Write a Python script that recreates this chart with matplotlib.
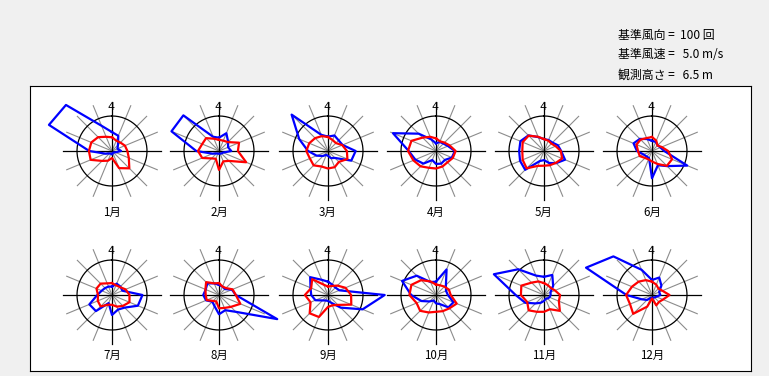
"""
Monthly wind roses (frequency and mean speed by direction)
"""
import matplotlib
matplotlib.use('Agg')
import matplotlib.pyplot as plt
import numpy

plt.rcParams['font.family'] = ['Noto Sans CJK JP', 'DejaVu Sans']

# 16 directions, clockwise from north
directions = ['N', 'NNE', 'NE', 'ENE', 'E', 'ESE', 'SE', 'SSE',
              'S', 'SSW', 'SW', 'WSW', 'W', 'WNW', 'NW', 'NNW']
month_labels = ['1月', '2月', '3月', '4月', '5月', '6月',
                '7月', '8月', '9月', '10月', '11月', '12月']

# wind direction counts (blue) and mean wind speed m/s (red)
jan_count = [54, 47, 24, 17, 26, 10, 6, 6, 10, 8, 10, 20, 65, 195, 186, 78]
jan_speed = [1.96, 1.6, 1.7, 2.0, 2.2, 2.6, 3.5, 2.65, 1.0, 1.5, 2.0, 3.3,
             3.3, 3.2, 2.8, 2.2]
feb_count = [38, 55, 37, 28, 35, 12, 10, 8, 8, 8, 10, 20, 65, 147, 144, 44]
feb_speed = [1.6, 1.6, 1.8, 3.1, 2.7, 4.2, 2.0, 1.6, 2.7, 1.2, 1.5, 2.6,
             3.0, 2.6, 2.6, 1.9]
mar_count = [41, 48, 43, 45, 79, 72, 28, 22, 14, 12, 20, 35, 57, 89, 147, 50]
mar_speed = [2.0, 1.7, 1.6, 2.2, 2.7, 3.0, 2.2, 2.5, 2.5, 2.4, 2.9, 2.8,
             3.1, 2.9, 2.6, 2.3]
apr_count = [22, 28, 30, 37, 54, 49, 36, 39, 37, 28, 51, 64, 78, 133, 70, 36]
apr_speed = [1.8, 1.5, 1.7, 2.1, 2.8, 2.6, 2.3, 2.4, 2.5, 2.6, 3.1, 3.5,
             4.0, 3.8, 2.7, 2.2]
may_count = [34, 34, 34, 43, 49, 65, 49, 37, 26, 31, 76, 74, 71, 73, 63, 43]
may_speed = [1.7, 1.6, 1.5, 1.8, 2.4, 2.8, 2.4, 2.2, 2.1, 2.3, 3.5, 3.3,
             3.1, 3.3, 3.1, 2.2]
jun_count = [29, 28, 23, 26, 35, 109, 61, 44, 78, 22, 22, 26, 43, 57, 49, 37]
jun_speed = [2.0, 1.6, 1.1, 1.5, 2.3, 3.1, 3.0, 2.0, 1.5, 1.3, 1.4, 1.9,
             2.0, 2.4, 2.3, 2.0]
jul_count = [24, 35, 34, 32, 87, 80, 51, 45, 57, 25, 65, 70, 42, 32, 28, 26]
jul_speed = [1.7, 1.5, 1.6, 2.1, 2.5, 2.7, 2.2, 1.8, 1.4, 1.5, 2.3, 2.2,
             2.0, 2.4, 2.3, 1.8]
aug_count = [29, 26, 24, 40, 48, 180, 68, 47, 55, 34, 27, 40, 45, 41, 47, 36]
aug_speed = [1.7, 1.3, 1.4, 2.1, 2.4, 3.3, 2.4, 2.0, 1.9, 1.0, 1.2, 1.9,
             1.9, 2.1, 2.6, 1.8]
sep_count = [38, 32, 30, 35, 162, 107, 51, 24, 17, 17, 22, 39, 48, 54, 72, 47]
sep_speed = [1.2, 1.4, 1.9, 2.7, 3.3, 3.6, 2.0, 1.6, 1.7, 3.4, 3.7, 2.7,
             3.3, 2.6, 3.2, 1.6]
oct_count = [38, 79, 40, 31, 34, 54, 50, 28, 24, 17, 26, 45, 71, 105, 78, 40]
oct_speed = [1.5, 1.5, 1.7, 2.0, 2.1, 3.2, 2.7, 2.5, 2.4, 2.7, 3.2, 3.0,
             3.8, 3.8, 3.0, 2.1]
nov_count = [52, 62, 37, 20, 19, 17, 14, 12, 17, 24, 34, 58, 81, 155, 104, 60]
nov_speed = [1.7, 1.5, 1.4, 1.7, 2.3, 2.3, 3.2, 2.2, 2.4, 2.6, 3.1, 2.6,
             3.3, 3.5, 2.5, 2.1]
dec_count = [43, 54, 38, 22, 24, 13, 10, 8, 8, 9, 20, 32, 73, 204, 156, 78]
dec_speed = [1.9, 1.6, 1.3, 1.6, 2.5, 1.7, 1.4, 1.6, 0.5, 1.8, 3.8, 3.4,
             3.7, 3.1, 2.7, 2.3]

counts = [jan_count, feb_count, mar_count, apr_count, may_count, jun_count,
          jul_count, aug_count, sep_count, oct_count, nov_count, dec_count]
speeds = [jan_speed, feb_speed, mar_speed, apr_speed, may_speed, jun_speed,
          jul_speed, aug_speed, sep_speed, oct_speed, nov_speed, dec_speed]

reference_count = 100
reference_speed = 5.0
observation_height = 6.5

# layout in pixels
W, H = 769, 376
circle_px = 35
spoke_px = 49
centers_x = [112, 219, 328, 436, 544, 652]
centers_y = [151, 295]

fig = plt.figure(figsize=(W / 100, H / 100), dpi=100)
fig.patch.set_facecolor('#f0f0f0')

# white panel
panel = fig.add_axes([30 / W, 1 - 371 / H, 721 / W, 285 / H])
panel.set_facecolor('white')
panel.set_xticks([])
panel.set_yticks([])
for spine in panel.spines.values():
    spine.set_linewidth(0.8)
    spine.set_color('black')

# header text
fig.text(618 / W, 1 - 35 / H, '基準風向 =  %d 回' % reference_count,
         fontsize=8.6, va='center', ha='left')
fig.text(618 / W, 1 - 55 / H, '基準風速 =   %.1f m/s' % reference_speed,
         fontsize=8.6, va='center', ha='left')
fig.text(618 / W, 1 - 75 / H, '観測高さ =   %.1f m' % observation_height,
         fontsize=8.6, va='center', ha='left')

theta = numpy.deg2rad(numpy.arange(16) * 22.5)
theta_closed = numpy.append(theta, theta[0])
r_max = reference_count * spoke_px / circle_px
ring = numpy.linspace(0, 2 * numpy.pi, 200)

for index, (count, speed) in enumerate(zip(counts, speeds)):
    cx = centers_x[index % 6]
    cy = centers_y[index // 6]
    ax = fig.add_axes([(cx - spoke_px) / W, 1 - (cy + spoke_px) / H,
                       2 * spoke_px / W, 2 * spoke_px / H],
                      projection='polar')
    ax.set_theta_zero_location('N')
    ax.set_theta_direction(-1)
    ax.set_ylim(0, r_max)
    ax.axis('off')
    ax.patch.set_alpha(0)

    # spokes
    for i, t in enumerate(theta):
        if i % 4 == 0:
            continue
        ax.plot([t, t], [0, r_max], color='#8c8c8c', lw=0.8, zorder=1,
                clip_on=False)
    for t in theta[::4]:
        ax.plot([t, t], [0, r_max], color='black', lw=0.9, zorder=2,
                clip_on=False)

    # reference circle
    ax.plot(ring, numpy.full_like(ring, reference_count), color='black',
            lw=0.9, zorder=2)

    # north mark
    ax.text(-0.02, r_max * 0.9, '4', fontsize=8, ha='center', va='center',
            family='DejaVu Sans', zorder=3)

    # frequency (blue) and speed (red)
    c = numpy.array(count, dtype=float)
    s = numpy.array(speed) / reference_speed * reference_count
    ax.plot(theta_closed, numpy.append(c, c[0]), color='#0000ff', lw=1.6,
            zorder=4, clip_on=False)
    ax.plot(theta_closed, numpy.append(s, s[0]), color='#ff0000', lw=1.6,
            zorder=5, clip_on=False)

    label_y = 212 if index < 6 else 355
    fig.text(cx / W, 1 - label_y / H, month_labels[index], fontsize=8.3,
             ha='center', va='center')

fig.savefig('out.png', dpi=100, facecolor=fig.get_facecolor())
